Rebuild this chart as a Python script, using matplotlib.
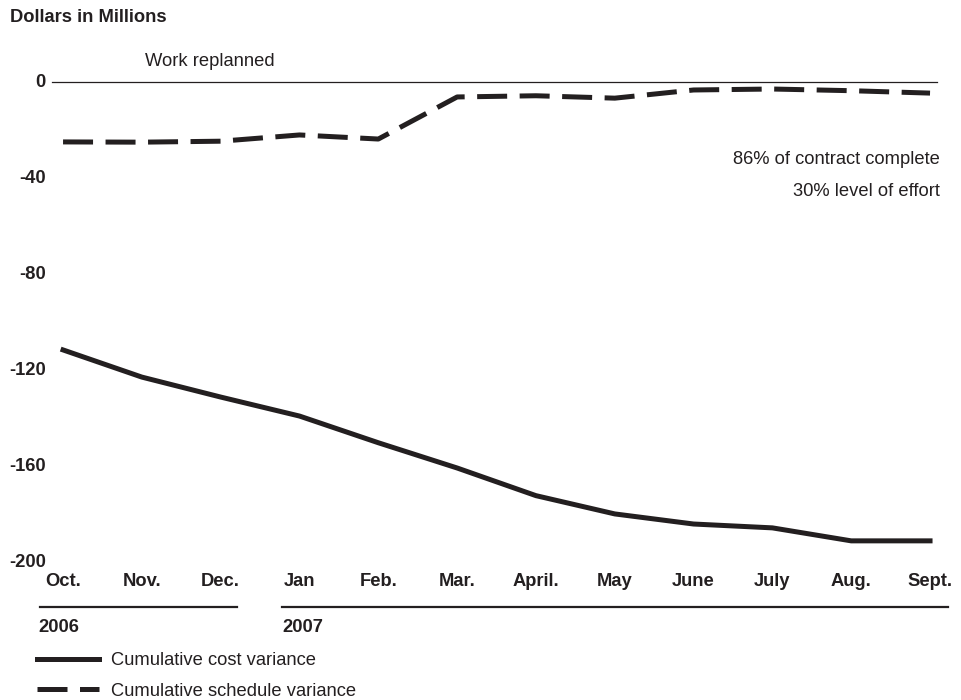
import matplotlib
matplotlib.use('Agg')
import matplotlib.pyplot as plt
from matplotlib.lines import Line2D
from matplotlib.transforms import blended_transform_factory

months = ['Oct.', 'Nov.', 'Dec.', 'Jan', 'Feb.', 'Mar.', 'April.', 'May',
          'June', 'July', 'Aug.', 'Sept.']
cost_variance = [-111.4, -122.7, -131.0, -138.9, -150.0, -160.5, -172.0,
                 -179.6, -183.8, -185.4, -190.8, -190.8]
schedule_variance = [-24.9, -25.0, -24.6, -22.0, -23.7, -6.2, -5.7, -6.7,
                     -3.3, -2.9, -3.6, -4.6]
yticks = [0, -40, -80, -120, -160, -200]
years = ['2006', '2007']

ink = '#231f20'
plt.rcParams['font.family'] = ['Liberation Sans', 'DejaVu Sans']
fs = 13.2

W, H = 962, 700
fig = plt.figure(figsize=(W / 100, H / 100), dpi=100)
fig.patch.set_facecolor('white')

# axes placed so Oct..Sept sit at 63..930 px and 0..-200 at 82..563 px
ax = fig.add_axes([39.4 / W, (H - 575) / H, 906.4 / W, 517 / H])
ax.set_xlim(-0.3, 11.2)
ax.set_ylim(-205, 10)
ax.axis('off')

x = list(range(len(months)))
ax.plot([-0.14, 11.09], [0, 0], color=ink, lw=0.9)
ax.plot(x, cost_variance, color=ink, lw=3.6, solid_joinstyle='miter',
        label='Cumulative cost variance')
ax.plot(x, schedule_variance, color=ink, lw=3.6, dashes=(6.0, 2.5),
        label='Cumulative schedule variance')

# y labels
ty = blended_transform_factory(fig.transFigure, ax.transData)
for v in yticks:
    ax.text(46 / W, v, str(v), transform=ty, ha='right', va='center',
            fontsize=fs, fontweight='bold', color=ink)

# month labels
tx = blended_transform_factory(ax.transData, fig.transFigure)
for i, m in enumerate(months):
    ax.text(i, (H - 582) / H, m, transform=tx, ha='center', va='center',
            fontsize=fs, fontweight='bold', color=ink)

# year rules and labels
for x0, x1 in [(40, 237), (282, 948)]:
    fig.add_artist(Line2D([x0 / W, x1 / W], [(H - 607) / H] * 2,
                          color=ink, lw=1.6))
for xp, yr in zip([38, 282], years):
    fig.text(xp / W, (H - 628) / H, yr, ha='left', va='center',
             fontsize=fs, fontweight='bold', color=ink)

fig.text(10 / W, (H - 17) / H, 'Dollars in Millions', ha='left',
         va='center', fontsize=fs, fontweight='bold', color=ink)
fig.text(145 / W, (H - 62) / H, 'Work replanned', ha='left', va='center',
         fontsize=fs, color=ink)
fig.text(940 / W, (H - 159) / H, '86% of contract complete', ha='right',
         va='center', fontsize=fs, color=ink)
fig.text(940 / W, (H - 192) / H, '30% level of effort', ha='right',
         va='center', fontsize=fs, color=ink)

leg = fig.legend(loc='center left', bbox_to_anchor=(37 / W, (H - 676) / H),
                 frameon=False, borderpad=0, borderaxespad=0,
                 handlelength=3.4, handletextpad=0.65, labelspacing=0.75,
                 fontsize=fs)
for t in leg.get_texts():
    t.set_color(ink)

fig.savefig('out.png', dpi=100, facecolor='white')
